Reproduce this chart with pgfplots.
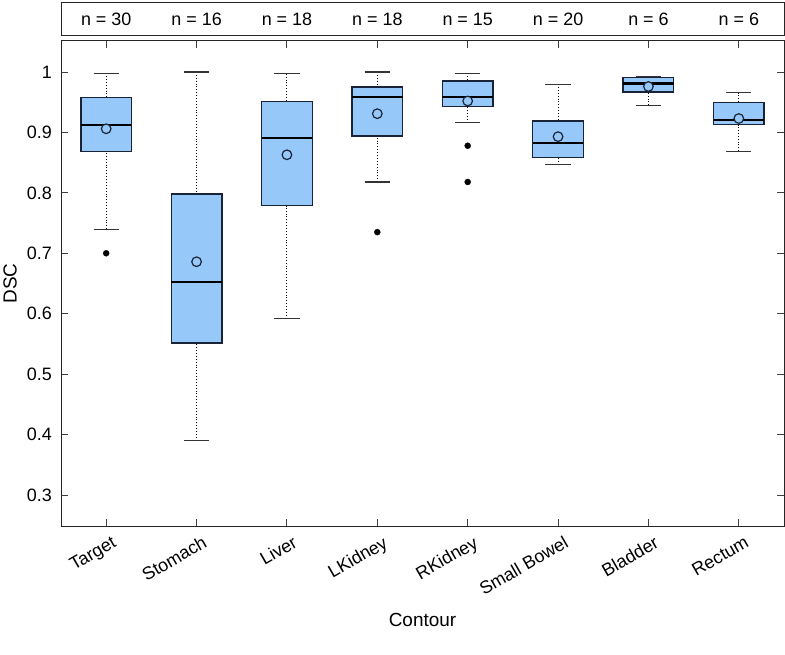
\documentclass[border=0pt]{standalone}
\usepackage{pgfplots}
\pgfplotsset{compat=1.18}
\usepgfplotslibrary{statistics}
\usepackage{fontspec}
\setmainfont{Liberation Sans}
\definecolor{boxfill}{RGB}{150,200,250}
\definecolor{boxline}{RGB}{25,35,55}

\begin{document}
\begin{tikzpicture}
\path[use as bounding box] (-61bp,-129bp) rectangle (724bp,526bp);
\begin{axis}[
  at={(0,0)}, anchor=south west,
  scale only axis, width=723bp, height=485bp,
  xmin=0.5, xmax=8.5, ymin=0.2487, ymax=1.0513,
  xtick={1,2,3,4,5,6,7,8},
  xticklabels={Target,Stomach,Liver,LKidney,RKidney,Small Bowel,Bladder,Rectum},
  ytick={0.3,0.4,0.5,0.6,0.7,0.8,0.9,1},
  yticklabels={0.3,0.4,0.5,0.6,0.7,0.8,0.9,1},
  tick align=inside, major tick length=7bp,
  tick style={black!75, line width=0.9bp},
  axis line style={black!85, line width=1bp},
  ticklabel style={font=\fontsize{18}{20}\selectfont},
  yticklabel style={anchor=east, inner sep=0pt, xshift=-9bp},
  xticklabel style={xshift=5bp, yshift=-9bp, rotate=30, anchor=north east, inner sep=0pt},
  label style={font=\fontsize{19}{22}\selectfont},
  xlabel={Contour}, ylabel={DSC},
  xlabel style={at={(axis description cs:0.5,-0.194)}, anchor=center},
  ylabel style={at={(axis description cs:-0.0705,0.5)}, anchor=center},
  boxplot/draw direction=y,
  boxplot/box extend=0.56,
  boxplot/whisker extend=0.28,
  boxplot/every box/.style={draw=boxline, fill=boxfill, line width=1.3bp},
  boxplot/every median/.style={black, line width=2.2bp},
  boxplot/draw/lower whisker/.code={%
    \draw[black, dotted, line width=0.9bp] (boxplot cs:\pgfplotsboxplotvalue{lower whisker}) -- (boxplot cs:\pgfplotsboxplotvalue{lower quartile});
    \draw[black!80, line width=1.1bp] (boxplot whisker cs:\pgfplotsboxplotvalue{lower whisker},0) -- (boxplot whisker cs:\pgfplotsboxplotvalue{lower whisker},1);
  },
  boxplot/draw/upper whisker/.code={%
    \draw[black, dotted, line width=0.9bp] (boxplot cs:\pgfplotsboxplotvalue{upper whisker}) -- (boxplot cs:\pgfplotsboxplotvalue{upper quartile});
    \draw[black!80, line width=1.1bp] (boxplot whisker cs:\pgfplotsboxplotvalue{upper whisker},0) -- (boxplot whisker cs:\pgfplotsboxplotvalue{upper whisker},1);
  },
]
% Target
\addplot[boxplot prepared={draw position=1, lower whisker=0.740, lower quartile=0.869, median=0.912, upper quartile=0.958, upper whisker=0.998}] coordinates {};
% Stomach
\addplot[boxplot prepared={draw position=2, lower whisker=0.390, lower quartile=0.5515, median=0.6525, upper quartile=0.798, upper whisker=1.000}] coordinates {};
% Liver
\addplot[boxplot prepared={draw position=3, lower whisker=0.592, lower quartile=0.779, median=0.891, upper quartile=0.951, upper whisker=0.997}] coordinates {};
% LKidney
\addplot[boxplot prepared={draw position=4, lower whisker=0.818, lower quartile=0.894, median=0.959, upper quartile=0.975, upper whisker=1.000}] coordinates {};
% RKidney
\addplot[boxplot prepared={draw position=5, lower whisker=0.916, lower quartile=0.943, median=0.959, upper quartile=0.985, upper whisker=0.998}] coordinates {};
% Small Bowel
\addplot[boxplot prepared={draw position=6, lower whisker=0.847, lower quartile=0.859, median=0.8825, upper quartile=0.919, upper whisker=0.980}] coordinates {};
% Bladder
\addplot[boxplot prepared={draw position=7, lower whisker=0.945, lower quartile=0.967, median=0.981, upper quartile=0.991, upper whisker=0.992}] coordinates {};
% Rectum
\addplot[boxplot prepared={draw position=8, lower whisker=0.869, lower quartile=0.913, median=0.920, upper quartile=0.950, upper whisker=0.966}] coordinates {};
% outliers
\addplot[only marks, mark=*, mark size=3bp, black] coordinates {(1,0.700) (4,0.735) (5,0.878) (5,0.818)};
% means
\addplot[only marks, mark=*, mark size=4.8bp, mark options={fill=boxfill, draw=boxline, line width=1.2bp}] coordinates {(1,0.906) (2,0.686) (3,0.863) (4,0.931) (5,0.952) (6,0.893) (7,0.976) (8,0.923)};
\end{axis}
\begin{axis}[
  at={(0,490bp)}, anchor=south west,
  scale only axis, width=723bp, height=33bp,
  xmin=0.5, xmax=8.5, ymin=0, ymax=1,
  xtick=\empty, ytick=\empty,
  axis line style={black!85, line width=1bp},
]
\node[font=\fontsize{18}{20}\selectfont] at (axis cs:1,0.5) {n = 30};
\node[font=\fontsize{18}{20}\selectfont] at (axis cs:2,0.5) {n = 16};
\node[font=\fontsize{18}{20}\selectfont] at (axis cs:3,0.5) {n = 18};
\node[font=\fontsize{18}{20}\selectfont] at (axis cs:4,0.5) {n = 18};
\node[font=\fontsize{18}{20}\selectfont] at (axis cs:5,0.5) {n = 15};
\node[font=\fontsize{18}{20}\selectfont] at (axis cs:6,0.5) {n = 20};
\node[font=\fontsize{18}{20}\selectfont] at (axis cs:7,0.5) {n = 6};
\node[font=\fontsize{18}{20}\selectfont] at (axis cs:8,0.5) {n = 6};
\end{axis}
\end{tikzpicture}
\end{document}
